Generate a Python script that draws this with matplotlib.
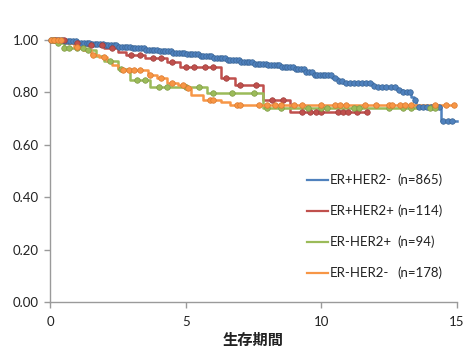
import numpy as np
import matplotlib
matplotlib.use("Agg")
import matplotlib.pyplot as plt

plt.rcParams['font.family'] = ['Lato', 'Noto Sans CJK JP', 'DejaVu Sans']

groups = ["ER+HER2-", "ER+HER2+", "ER-HER2+", "ER-HER2-"]
counts = ["(n=865)", "(n=114)", "(n=94)", "(n=178)"]
colors = ["#4F81BD", "#C0504D", "#9BBB59", "#F79646"]
edge_colors = ["#3A6595", "#9E3E3B", "#7E9A45", "#D9782C"]

# step functions: times at which survival changes, survival after change
blue_t = [0, 0.5, 1.0, 1.5, 2.0, 2.5, 3.0, 3.5, 4.0, 4.5, 5.0, 5.5, 6.0, 6.5, 7.0, 7.5, 8.0, 8.5, 9.0, 9.4, 9.7,
          10.4, 10.6, 10.8, 11.9, 12.0, 12.8, 13.0, 13.3, 13.4, 13.5, 14.4]
blue_s = [1.0, 0.995, 0.99, 0.985, 0.98, 0.975, 0.968, 0.962, 0.957, 0.952, 0.947, 0.94, 0.932, 0.925, 0.917, 0.91,
          0.903, 0.896, 0.888, 0.878, 0.867, 0.855, 0.842, 0.836, 0.826, 0.82, 0.81, 0.803, 0.784, 0.77, 0.745, 0.69]
blue_end = 15.0
blue_cens = [0.05, 0.15, 0.25, 0.35, 0.45, 0.55, 0.65, 0.75, 0.85, 0.95, 1.05, 1.15, 1.25, 1.35, 1.45, 1.55,
             1.65, 1.75, 1.85, 1.95, 2.05, 2.15, 2.25, 2.35, 2.45, 2.55, 2.65, 2.75, 2.85, 2.95, 3.05, 3.15,
             3.25, 3.35, 3.45, 3.55, 3.65, 3.75, 3.85, 3.95, 4.05, 4.15, 4.25, 4.35, 4.45, 4.55, 4.65, 4.75,
             4.85, 4.95, 5.05, 5.15, 5.25, 5.35, 5.45, 5.55, 5.65, 5.75, 5.85, 5.95, 6.05, 6.15, 6.25, 6.35,
             6.45, 6.55, 6.65, 6.75, 6.85, 6.95, 7.05, 7.15, 7.25, 7.35, 7.45, 7.55, 7.65, 7.75, 7.85, 7.95,
             8.05, 8.15, 8.25, 8.35, 8.45, 8.55, 8.65, 8.75, 8.85, 8.95, 9.05, 9.15, 9.25, 9.35, 9.45, 9.55,
             9.65, 9.75, 9.85, 9.95, 10.05, 10.15, 10.25, 10.35, 10.5, 10.65, 10.75, 10.9, 11.05, 11.2, 11.35,
             11.5, 11.65, 11.8, 11.95, 12.1, 12.25, 12.4, 12.55, 12.7, 12.85, 13.0, 13.15, 13.25, 13.45, 13.6,
             13.75, 13.9, 14.05, 14.2, 14.35, 14.5, 14.65, 14.8]

red_t = [0, 0.8, 1.3, 2.0, 2.5, 2.8, 3.5, 4.3, 4.8, 6.3, 6.8, 7.85, 8.85]
red_s = [1.0, 0.99, 0.982, 0.97, 0.955, 0.943, 0.93, 0.915, 0.897, 0.855, 0.828, 0.77, 0.725]
red_end = 11.7
red_cens = [0.2, 0.5, 1.0, 1.5, 1.9, 2.3, 3.0, 3.3, 3.8, 4.1, 4.5, 5.0, 5.3, 5.7, 6.0, 6.5, 7.0, 7.6, 8.2,
            8.6, 9.3, 9.6, 9.8, 10.0, 10.6, 10.8, 11.0, 11.3, 11.7]

green_t = [0, 0.3, 0.5, 1.3, 1.7, 2.0, 2.5, 2.95, 3.7, 5.8, 7.85]
green_s = [1.0, 0.988, 0.97, 0.96, 0.94, 0.92, 0.89, 0.847, 0.82, 0.797, 0.74]
green_end = 14.2
green_cens = [0.1, 0.3, 0.5, 0.7, 1.0, 1.2, 1.4, 2.2, 2.6, 3.2, 3.5, 4.0, 4.3, 5.0, 5.5, 6.0, 6.7, 7.5, 8.0,
              8.5, 9.5, 10.0, 10.2, 11.2, 11.4, 12.5, 13.0, 13.3, 14.0, 14.2]

orange_t = [0, 0.6, 0.9, 1.2, 1.5, 1.8, 2.1, 2.3, 2.5, 2.65, 3.6, 3.95, 4.3, 4.7, 5.0, 5.2, 5.65, 6.3, 6.65]
orange_s = [1.0, 0.99, 0.975, 0.96, 0.943, 0.935, 0.92, 0.905, 0.893, 0.885, 0.866, 0.855, 0.836, 0.828, 0.817,
            0.79, 0.771, 0.763, 0.752]
orange_end = 14.9
orange_cens = [0.05, 0.15, 0.3, 0.4, 1.0, 1.6, 2.0, 2.7, 2.9, 3.1, 3.3, 3.7, 4.1, 4.5, 4.9, 5.1, 5.9, 6.0, 6.9,
               7.0, 7.7, 8.0, 8.3, 8.5, 9.0, 9.3, 10.0, 10.5, 10.7, 10.9, 11.6, 12.0, 12.5, 12.6, 12.9, 13.1,
               13.3, 14.2, 14.6, 14.9]

series = [
    (blue_t, blue_s, blue_end, blue_cens),
    (red_t, red_s, red_end, red_cens),
    (green_t, green_s, green_end, green_cens),
    (orange_t, orange_s, orange_end, orange_cens),
]

fig = plt.figure(figsize=(4.65, 3.49), dpi=100)
ax = fig.add_axes([50 / 465, 1 - 302 / 349, 407 / 465, 262 / 349])

for (t, s, end, cens), c, ec in zip(series, colors, edge_colors):
    tt = list(t) + [end]
    ss = list(s) + [s[-1]]
    ax.step(tt, ss, where='post', color=c, lw=1.8, clip_on=False, zorder=2)
    idx = np.searchsorted(np.array(t), np.array(cens), side='right') - 1
    ys = np.array(s)[idx]
    ax.plot(cens, ys, 'o', ms=4.0, color=c, mec=ec, mew=0.5, clip_on=False, zorder=3)

ax.set_xlim(0, 15)
ax.set_ylim(0, 1.0)
ax.set_xticks([0, 5, 10, 15])
ax.set_yticks(np.arange(0, 1.01, 0.2))
ax.set_yticklabels([f"{v:.2f}" for v in np.arange(0, 1.01, 0.2)])
for sp in ['top', 'right']:
    ax.spines[sp].set_visible(False)
for sp in ['left', 'bottom']:
    ax.spines[sp].set_color('#9a9a9a')
    ax.spines[sp].set_linewidth(1.0)
ax.tick_params(axis='both', colors='#9a9a9a', labelcolor='#222222', labelsize=9.5, length=4, width=1.0)
ax.tick_params(axis='x', pad=6)
ax.tick_params(axis='y', pad=4)
ax.set_xlabel("生存期間", fontsize=11, fontweight='bold', family=['Noto Sans CJK JP'], labelpad=3, color='#222222')

# legend
leg_y = [0.466, 0.347, 0.229, 0.111]
for g, n, c, y in zip(groups, counts, colors, leg_y):
    ax.plot([0.631, 0.683], [y, y], transform=ax.transAxes, color=c, lw=1.6, clip_on=False)
    ax.text(0.688, y, g, transform=ax.transAxes, va='center', ha='left', fontsize=9.5, color='#222222')
    ax.text(0.853, y, n, transform=ax.transAxes, va='center', ha='left', fontsize=9.5, color='#222222')

fig.savefig("out.png", dpi=100)
